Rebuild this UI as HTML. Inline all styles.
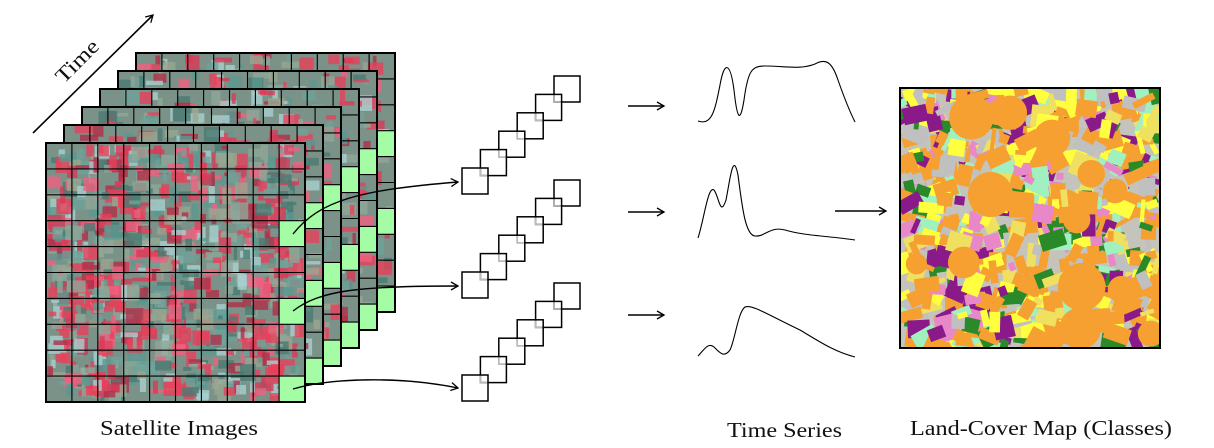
<!DOCTYPE html>
<html><head><meta charset="utf-8"><style>
html,body{margin:0;padding:0;background:#fff;width:1214px;height:448px;overflow:hidden}
svg{display:block}
text{font-family:"Liberation Serif",serif;font-size:21px;fill:#111}
</style></head><body>
<svg id="s" width="1214" height="448" viewBox="0 0 1214 448" xmlns="http://www.w3.org/2000/svg">
<defs>
<marker id="ah" markerWidth="10" markerHeight="10" refX="8" refY="5" orient="auto" markerUnits="userSpaceOnUse">
<path d="M1,1 L8,5 L1,9" fill="none" stroke="#000" stroke-width="1.3"/></marker>
<clipPath id="mclip"><rect x="901" y="89" width="258" height="258"/></clipPath>
</defs>
<g id="layers"></g>
<g id="map" clip-path="url(#mclip)"></g>
<rect x="900" y="88" width="260" height="260" fill="none" stroke="#000" stroke-width="2"/>
<g id="sq"></g>
<line x1="33" y1="133" x2="153" y2="15" stroke="#000" stroke-width="1.6" marker-end="url(#ah)"/>
<text x="82" y="66" transform="rotate(-45 82 66)" text-anchor="middle" font-size="23" textLength="52" lengthAdjust="spacingAndGlyphs">Time</text>
<g fill="none" stroke="#000" stroke-width="1.4" marker-end="url(#ah)">
<path d="M293,234 C320,200 360,190 458,182"/>
<path d="M293,311 C320,290 360,286 458,286"/>
<path d="M293,389 C330,378 400,376 458,388"/>
<line x1="628" y1="106" x2="664" y2="106"/>
<line x1="628" y1="212" x2="664" y2="212"/>
<line x1="628" y1="315" x2="664" y2="315"/>
<line x1="835" y1="211" x2="886" y2="211"/>
</g>
<g fill="none" stroke="#000" stroke-width="1.1">
<path d="M698,121 C712,126 715,110 720,85 C724,62 730,60 734,90 C737,118 740,125 744,100 C748,70 752,66 765,66 C785,66 800,70 815,64 C826,58 832,62 838,80 C845,100 850,112 855,122"/>
<path d="M698,238 C704,220 708,185 714,190 C719,196 720,218 726,200 C730,180 733,150 738,175 C742,205 745,235 755,236 C765,237 770,226 785,230 C805,236 830,236 855,240"/>
<path d="M698,356 C704,350 708,342 714,347 C720,353 724,358 730,350 C735,340 738,312 745,307 C752,304 770,316 800,330 C820,342 835,352 855,357"/>
</g>
<text x="100" y="435" textLength="158" lengthAdjust="spacingAndGlyphs">Satellite Images</text>
<text x="727" y="437" textLength="115" lengthAdjust="spacingAndGlyphs">Time Series</text>
<text x="910" y="435" textLength="262" lengthAdjust="spacingAndGlyphs">Land-Cover Map (Classes)</text>
</svg>
<script>
var NS="http://www.w3.org/2000/svg";
function el(p,t,a){var e=document.createElementNS(NS,t);for(var k in a)e.setAttribute(k,a[k]);p.appendChild(e);return e;}
var seed=7;function r(){seed=(seed*16807)%2147483647;return (seed-1)/2147483646;}
var L=document.getElementById("layers");
var S=259,C=S/10;
var satCols=["#e8405a","#e8405a","#d83a58","#5a9890","#6fa39a","#8fa898","#4a7a72","#f06080","#a8d0d0","#9aa690","#b03048"];
for(var i=5;i>=0;i--){
 var x0=46+18*i,y0=143-18*i;
 var g=el(L,"g",{});
 el(g,"rect",{x:x0,y:y0,width:S,height:S,fill:"#7a9288"});
 var n=i==0?900:400;
 for(var k=0;k<n;k++){var w=3+r()*16,h=3+r()*14;el(g,"rect",{x:x0+r()*(S-w),y:y0+r()*(S-h),width:w,height:h,fill:satCols[Math.floor(r()*satCols.length)],opacity:0.8});}
 [3,6,9].forEach(function(rw){el(g,"rect",{x:x0+9*C,y:y0+rw*C,width:C,height:C,fill:"#a4fca4"});});
 for(var j=1;j<10;j++){el(g,"line",{x1:x0+j*C,y1:y0,x2:x0+j*C,y2:y0+S,stroke:"#000","stroke-width":1.1});el(g,"line",{x1:x0,y1:y0+j*C,x2:x0+S,y2:y0+j*C,stroke:"#000","stroke-width":1.1});}
 el(g,"rect",{x:x0,y:y0,width:S,height:S,fill:"none",stroke:"#000","stroke-width":2});
}
var M=document.getElementById("map");
el(M,"rect",{x:901,y:89,width:258,height:258,fill:"#c4c4bc"});
var mc=["#f5a030","#f5a030","#f5a030","#f5a030","#ffff40","#ffff40","#8a1a8a","#2a8a2a","#c0c0c0","#e888c8","#a0f0c0","#f0e060"];
for(var k=0;k<700;k++){var w=4+r()*22,h=4+r()*20;var cx=901+r()*258,cy=89+r()*258;
 el(M,"rect",{x:cx-w/2,y:cy-h/2,width:w,height:h,fill:mc[Math.floor(r()*mc.length)],transform:"rotate("+(r()*60-30)+" "+cx+" "+cy+")"});}
for(var k=0;k<14;k++){var cx=901+r()*258,cy=89+r()*258,rr=10+r()*14;el(M,"circle",{cx:cx,cy:cy,r:rr,fill:"#f5a030"});}
var Q=document.getElementById("sq");
[168,272,375].forEach(function(by){
 for(var i=0;i<6;i++){var x=462+18.4*i,y=by-18.4*i;
  el(Q,"rect",{x:x,y:y,width:26,height:26,fill:"none",stroke:"#000","stroke-width":1.5});
 }
 for(var i=1;i<6;i++){var x=462+18.4*i,y=by-18.4*i;
  el(Q,"path",{d:"M"+x+","+(y+18.4+0.8)+" V"+(y+26)+" H"+(x+7.6-0.8),fill:"none",stroke:"#bbb","stroke-width":1.6});
 }
});
</script>
</body></html>
